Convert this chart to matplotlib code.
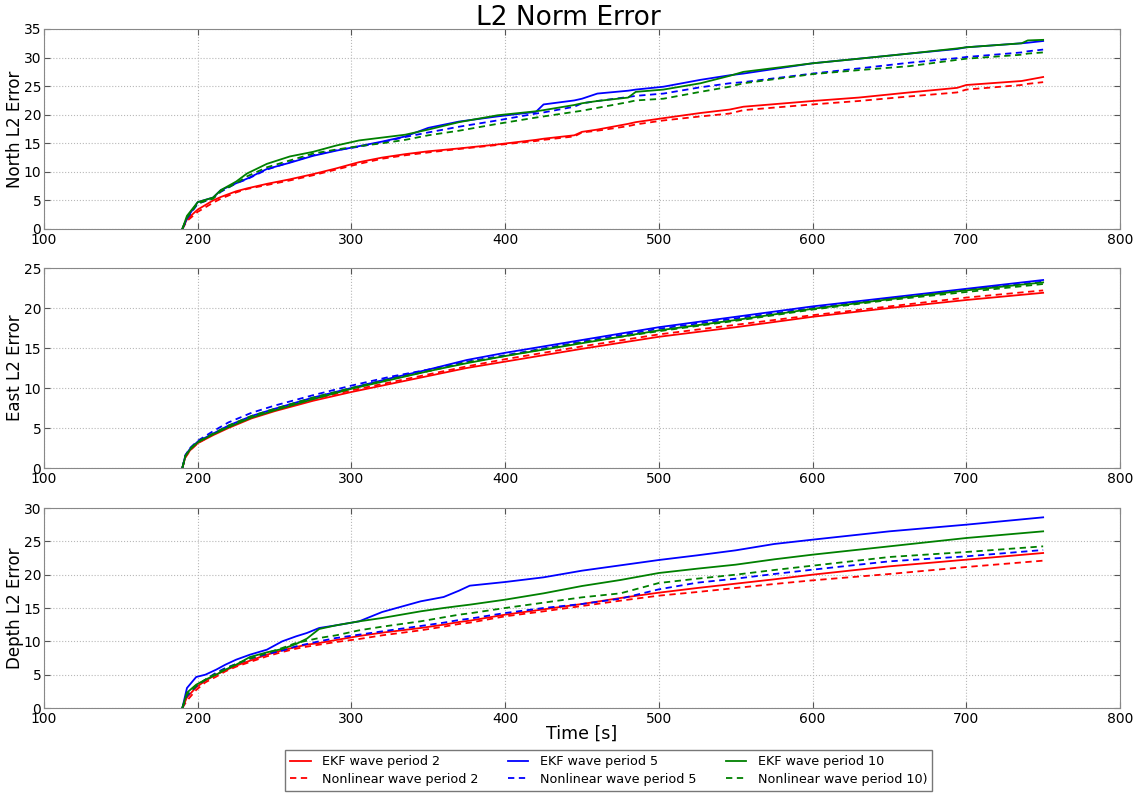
import matplotlib
matplotlib.use('Agg')
import matplotlib.pyplot as plt

# ---- North panel data ----
x_north = [190, 193, 200, 210, 215, 225, 232, 245, 260, 275, 290, 305, 320, 335, 350, 370, 395,
           420, 425, 445, 450, 460, 480, 485, 503, 527, 546, 555, 600, 630, 663, 694, 700, 736, 740, 750]
north_ekf2 = [0, 1.7, 3.4, 5.0, 5.6, 6.6, 7.1, 7.9, 8.7, 9.6, 10.6, 11.7, 12.5, 13.1, 13.6, 14.1, 14.8,
              15.6, 15.8, 16.4, 17.0, 17.4, 18.4, 18.7, 19.4, 20.3, 20.9, 21.4, 22.4, 23.0, 23.9, 24.7, 25.2, 25.9, 26.1, 26.6]
north_nl2 = [0, 1.4, 3.0, 4.6, 5.3, 6.4, 7.0, 7.7, 8.5, 9.4, 10.4, 11.4, 12.3, 12.9, 13.4, 14.0, 14.7,
             15.4, 15.6, 16.2, 16.9, 17.2, 18.0, 18.3, 19.0, 19.7, 20.2, 20.8, 21.8, 22.4, 23.2, 23.9, 24.4, 25.2, 25.4, 25.7]
north_ekf5 = [0, 1.9, 4.7, 5.5, 6.8, 8.0, 8.8, 10.5, 11.6, 12.8, 13.7, 14.5, 15.3, 16.2, 17.7, 18.8, 19.7,
              20.5, 21.8, 22.5, 22.8, 23.7, 24.2, 24.4, 24.9, 26.1, 26.9, 27.2, 29.0, 29.8, 30.7, 31.5, 31.8, 32.5, 32.6, 32.9]
north_nl5 = [0, 1.8, 4.4, 5.4, 6.5, 8.0, 8.7, 10.4, 11.7, 12.9, 13.8, 14.4, 15.2, 16.1, 16.9, 17.9, 19.0,
             20.2, 20.4, 21.4, 22.0, 22.4, 23.1, 23.3, 23.7, 24.8, 25.5, 25.7, 27.2, 28.1, 29.1, 29.9, 30.1, 30.9, 31.1, 31.4]
north_ekf10 = [0, 2.3, 4.7, 5.5, 6.8, 8.3, 9.7, 11.4, 12.7, 13.5, 14.6, 15.5, 16.0, 16.5, 17.4, 18.7, 19.9,
               20.6, 20.8, 21.7, 22.0, 22.4, 23.0, 24.0, 24.4, 25.5, 26.8, 27.5, 29.0, 29.8, 30.7, 31.6, 31.8, 32.5, 33.0, 33.1]
north_nl10 = [0, 2.0, 4.5, 5.3, 6.6, 8.0, 9.2, 10.8, 12.0, 13.2, 13.9, 14.5, 15.0, 15.6, 16.4, 17.2, 18.4,
              19.5, 19.7, 20.5, 20.7, 21.2, 22.2, 22.5, 22.8, 24.0, 24.9, 25.5, 27.1, 27.8, 28.5, 29.6, 29.8, 30.5, 30.7, 30.9]

# ---- East panel data ----
x_east = [190, 192, 195, 200, 210, 220, 235, 250, 275, 300, 325, 350, 375, 400, 450, 500, 550, 600, 650, 700, 750]
east_ekf2 = [0, 1.4, 2.2, 3.1, 4.1, 5.0, 6.2, 7.1, 8.4, 9.5, 10.5, 11.5, 12.5, 13.3, 14.9, 16.4, 17.6, 18.9, 20.0, 21.0, 21.9]
east_nl2 = [0, 1.3, 2.2, 3.1, 4.2, 5.2, 6.3, 7.3, 8.6, 9.7, 10.7, 11.7, 12.7, 13.6, 15.2, 16.7, 17.9, 19.1, 20.2, 21.3, 22.2]
east_ekf5 = [0, 1.6, 2.4, 3.3, 4.3, 5.3, 6.5, 7.4, 8.8, 10.0, 11.2, 12.3, 13.5, 14.4, 16.0, 17.6, 18.9, 20.2, 21.3, 22.4, 23.5]
east_nl5 = [0, 1.6, 2.5, 3.4, 4.6, 5.7, 6.9, 7.8, 9.1, 10.3, 11.4, 12.3, 13.3, 14.1, 15.8, 17.4, 18.7, 20.0, 21.2, 22.3, 23.3]
east_ekf10 = [0, 1.5, 2.3, 3.2, 4.2, 5.1, 6.3, 7.2, 8.6, 9.9, 11.0, 12.1, 13.1, 14.0, 15.6, 17.2, 18.5, 19.9, 21.1, 22.2, 23.2]
east_nl10 = [0, 1.5, 2.4, 3.3, 4.3, 5.3, 6.5, 7.4, 8.8, 10.0, 11.1, 12.1, 13.2, 14.0, 15.7, 17.1, 18.4, 19.8, 21.0, 22.0, 23.0]

# ---- Depth panel data ----
x_depth = [190, 193, 199, 205, 212, 218, 225, 234, 245, 255, 264, 271, 279, 290, 305, 320, 345, 360, 370, 377,
           400, 425, 450, 475, 500, 525, 550, 575, 600, 650, 700, 750]
depth_ekf2 = [0, 1.6, 3.1, 4.1, 5.0, 5.65, 6.35, 7.1, 8.0, 8.65, 9.15, 9.5, 9.75, 10.2, 10.8, 11.3, 12.0, 12.5, 12.9, 13.1,
              14.0, 14.8, 15.6, 16.5, 17.3, 18.0, 18.65, 19.3, 20.0, 21.25, 22.25, 23.25]
depth_nl2 = [0, 1.1, 2.7, 3.85, 4.7, 5.5, 6.2, 6.9, 7.75, 8.4, 8.9, 9.2, 9.5, 9.9, 10.35, 10.9, 11.65, 12.2, 12.6, 12.8,
             13.75, 14.5, 15.3, 16.1, 16.85, 17.4, 18.0, 18.6, 19.15, 20.1, 21.15, 22.1]
depth_ekf5 = [0, 3.0, 4.65, 5.0, 5.75, 6.5, 7.25, 8.0, 8.75, 10.0, 10.75, 11.25, 12.0, 12.4, 13.0, 14.4, 16.0, 16.65, 17.6, 18.35,
              18.9, 19.6, 20.6, 21.4, 22.2, 22.9, 23.65, 24.6, 25.25, 26.5, 27.5, 28.6]
depth_nl5 = [0, 1.8, 3.25, 4.25, 5.3, 6.0, 6.6, 7.4, 8.1, 8.6, 9.25, 9.6, 10.0, 10.5, 11.0, 11.5, 12.3, 12.8, 13.2, 13.4,
             14.25, 15.0, 15.6, 16.4, 17.8, 18.8, 19.4, 20.1, 20.75, 22.0, 22.75, 23.7]
depth_ekf10 = [0, 2.3, 3.5, 4.25, 5.0, 5.75, 6.5, 7.65, 8.35, 8.85, 9.6, 10.4, 11.85, 12.4, 13.0, 13.5, 14.5, 15.0, 15.3, 15.5,
               16.25, 17.2, 18.3, 19.2, 20.25, 20.9, 21.5, 22.3, 23.0, 24.25, 25.5, 26.5]
depth_nl10 = [0, 2.0, 3.3, 4.25, 5.2, 5.85, 6.6, 7.4, 8.25, 9.0, 9.75, 10.1, 10.5, 10.9, 11.65, 12.2, 13.0, 13.6, 14.0, 14.2,
              15.0, 15.8, 16.6, 17.2, 18.75, 19.4, 20.0, 20.7, 21.35, 22.65, 23.4, 24.25]

labels = ['EKF wave period 2', 'Nonlinear wave period 2',
          'EKF wave period 5', 'Nonlinear wave period 5',
          'EKF wave period 10', 'Nonlinear wave period 10)']
colors = ['r', 'r', 'b', 'b', 'g', 'g']
dash = (0, (3.5, 2.5))
styles = ['-', dash, '-', dash, '-', dash]

panels = [
    ('North L2 Error', x_north, [north_ekf2, north_nl2, north_ekf5, north_nl5, north_ekf10, north_nl10], 35),
    ('East L2 Error', x_east, [east_ekf2, east_nl2, east_ekf5, east_nl5, east_ekf10, east_nl10], 25),
    ('Depth L2 Error', x_depth, [depth_ekf2, depth_nl2, depth_ekf5, depth_nl5, depth_ekf10, depth_nl10], 30),
]

fig = plt.figure(figsize=(11.37, 7.93), dpi=100)
left, width = 44 / 1137, (1120 - 44) / 1137
tops = [29, 268, 508]
handles = None
for i, (ylab, xs, series, ymax) in enumerate(panels):
    bottom = 1 - (tops[i] + 200) / 793
    ax = fig.add_axes([left, bottom, width, 200 / 793])
    lines = []
    for ys, c, ls, lab in zip(series, colors, styles, labels):
        ln, = ax.plot(xs, ys, color=c, linestyle=ls, linewidth=1.3, label=lab)
        lines.append(ln)
    if handles is None:
        handles = lines
    ax.set_xlim(100, 800)
    ax.set_ylim(0, ymax)
    ax.set_xticks(range(100, 801, 100))
    ax.set_yticks(range(0, ymax + 1, 5))
    ax.grid(True, color='#b8b8b8', linestyle=':', linewidth=0.8)
    ax.tick_params(direction='in', top=True, right=True, labelsize=10, length=4,
                   color='#555555')
    ax.tick_params(axis='y', pad=2)
    ax.tick_params(axis='x', pad=3)
    for sp in ax.spines.values():
        sp.set_color('#888888')
    ax.set_ylabel(ylab, fontsize=12)
    ax.yaxis.set_label_coords(-0.019, 0.5)
    if i == 2:
        ax.set_xlabel('Time [s]', fontsize=12.5, labelpad=-1)

fig.suptitle('L2 Norm Error', fontsize=19, x=0.5, y=1 - 18 / 793, va='center')

fig.legend(handles, labels, loc='upper left', bbox_to_anchor=(285 / 1137, 1 - 750 / 793),
           ncol=3, fontsize=9.2, frameon=True, fancybox=False, edgecolor='#555555',
           handlelength=1.6, handletextpad=0.9, columnspacing=2.3, borderaxespad=0,
           labelspacing=0.35, borderpad=0.4)

fig.savefig('out.png', dpi=100)
